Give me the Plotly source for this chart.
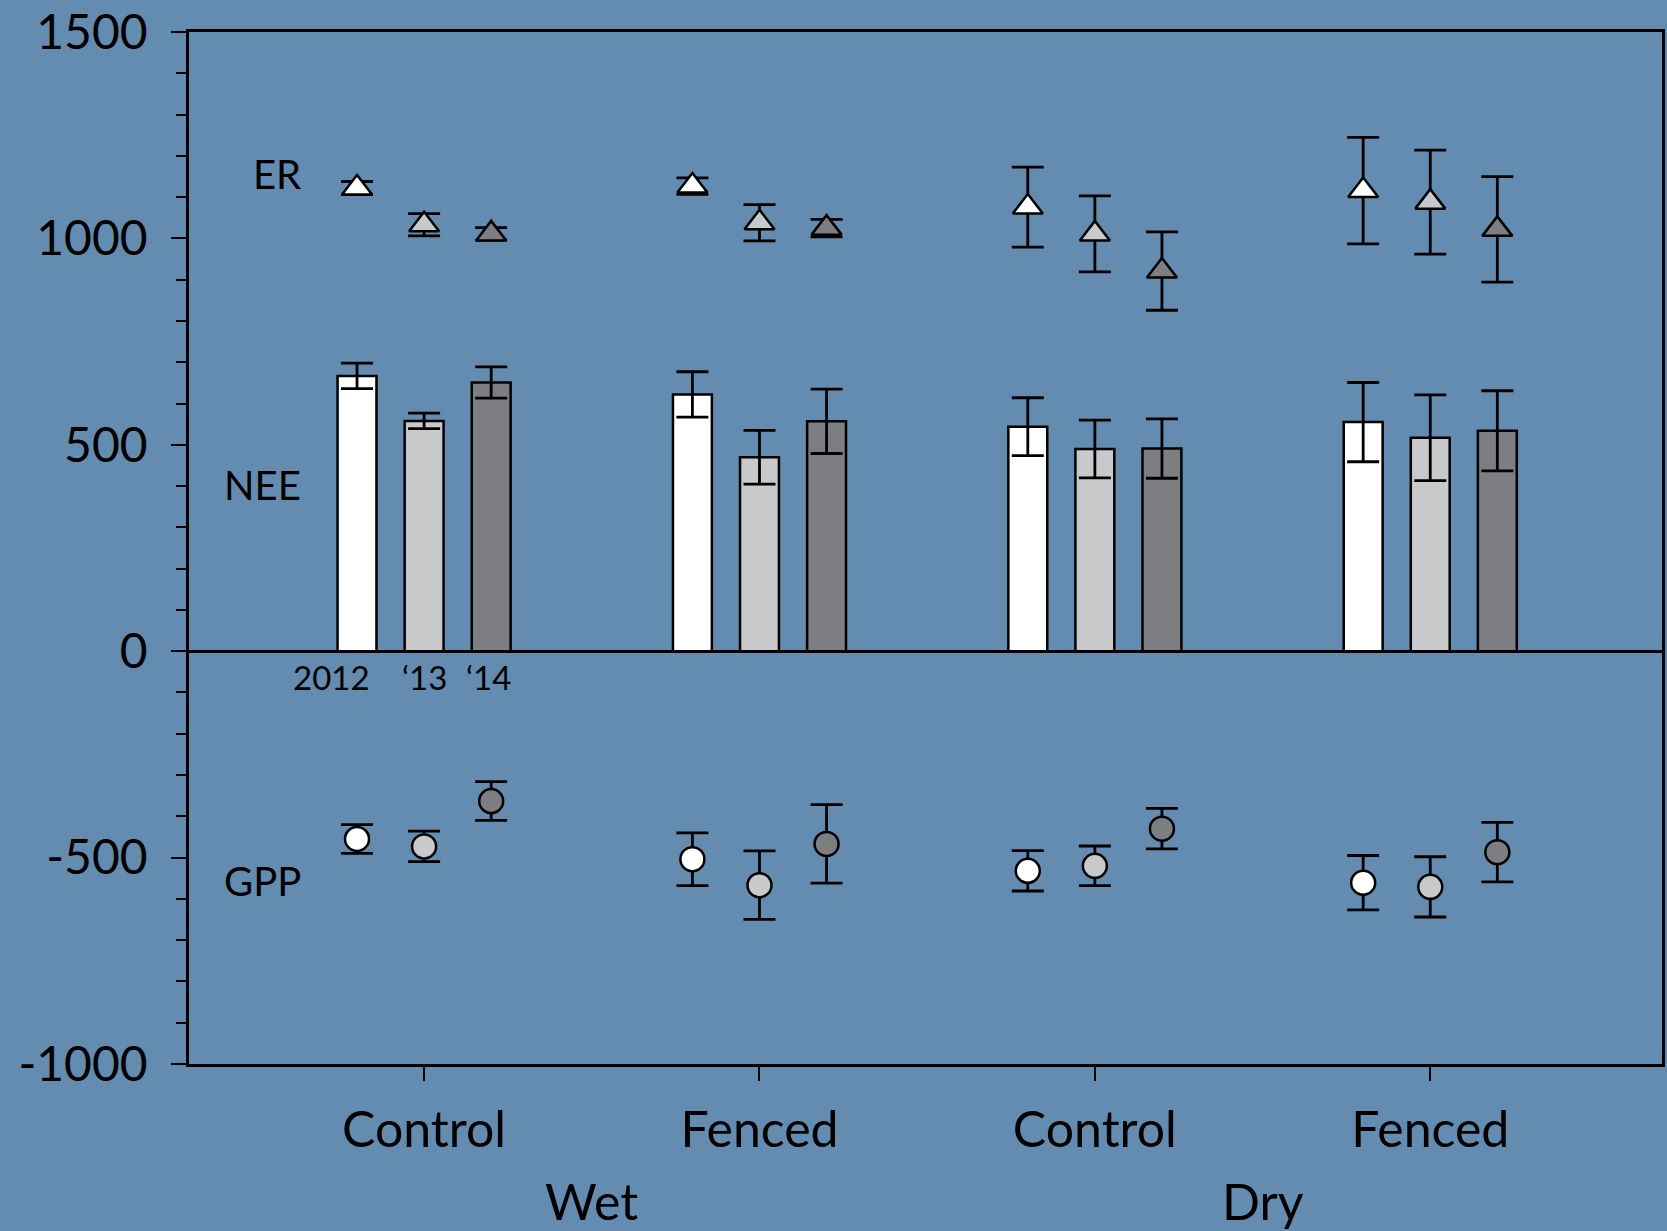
import plotly.graph_objects as go

# ---- data ----
treatments = ["Control", "Fenced", "Control", "Fenced"]
sites = ["Wet", "Dry"]
years = ["2012", "\u201813", "\u201814"]
y_tickvals = [-1000, -500, 0, 500, 1000, 1500]
y_ticktext = ["-1000", "-500", "0", "500", "1000", "1500"]

nee_2012 = [667, 622, 544, 555]
nee_2013 = [558, 470, 490, 517]
nee_2014 = [651, 557, 491, 534]
nee_err_2012 = [31, 55, 70, 96]
nee_err_2013 = [19, 65, 70, 104]
nee_err_2014 = [38, 78, 72, 97]

er_2012 = [1122, 1127, 1076, 1116]
er_2013 = [1033, 1038, 1011, 1088]
er_2014 = [1011, 1025, 921, 1022]
er_err_2012 = [16, 20, 97, 129]
er_err_2013 = [27, 44, 92, 126]
er_err_2014 = [15, 21, 95, 128]

gpp_2012 = [-455, -504, -532, -561]
gpp_2013 = [-473, -567, -520, -571]
gpp_2014 = [-363, -467, -430, -487]
gpp_err_2012 = [35, 64, 49, 66]
gpp_err_2013 = [37, 83, 48, 73]
gpp_err_2014 = [47, 95, 49, 72]

# ---- style ----
BG = "#648BB0"
fills = ["#FFFFFF", "#C8C9CB", "#7D7E82"]
FONT = "Lato"
offsets = [-0.2, 0.0, 0.2]
bar_w = 0.116

nee = [nee_2012, nee_2013, nee_2014]
nee_err = [nee_err_2012, nee_err_2013, nee_err_2014]
er = [er_2012, er_2013, er_2014]
er_err = [er_err_2012, er_err_2013, er_err_2014]
gpp = [gpp_2012, gpp_2013, gpp_2014]
gpp_err = [gpp_err_2012, gpp_err_2013, gpp_err_2014]

groups = list(range(len(treatments)))

fig = go.Figure()

for i, yr in enumerate(years):
    xs = [g + offsets[i] for g in groups]
    fig.add_trace(go.Bar(
        x=xs, y=nee[i], width=bar_w, name=yr,
        marker=dict(color=fills[i], line=dict(color="black", width=2.5)),
        error_y=dict(type="data", array=nee_err[i], visible=True,
                     color="black", thickness=2.8, width=16),
        showlegend=False,
    ))

for i, yr in enumerate(years):
    xs = [g + offsets[i] for g in groups]
    fig.add_trace(go.Scatter(
        x=xs, y=er[i], mode="markers", name="ER " + yr,
        marker=dict(symbol="triangle-up", size=26, color=fills[i],
                    line=dict(color="black", width=2.5)),
        error_y=dict(type="data", array=er_err[i], visible=True,
                     color="black", thickness=2.8, width=16),
        showlegend=False,
    ))
    fig.add_trace(go.Scatter(
        x=xs, y=gpp[i], mode="markers", name="GPP " + yr,
        marker=dict(symbol="circle", size=24, color=fills[i],
                    line=dict(color="black", width=2.5)),
        error_y=dict(type="data", array=gpp_err[i], visible=True,
                     color="black", thickness=2.8, width=16),
        showlegend=False,
    ))

annotations = []
# flux labels
for txt, yv in [("ER", 1157), ("NEE", 403), ("GPP", -558)]:
    annotations.append(dict(x=-0.362, y=yv, xref="x", yref="y", text=txt,
                            showarrow=False, xanchor="right", yanchor="middle",
                            font=dict(family=FONT, size=40, color="black")))
# year labels under first group
year_shift = [-26, 0, -3]
for i, yr in enumerate(years):
    annotations.append(dict(x=groups[0] + offsets[i], y=-63, xref="x", yref="y",
                            text=yr, showarrow=False, xanchor="center",
                            yanchor="middle", xshift=year_shift[i],
                            font=dict(family=FONT, size=33, color="black")))
# site labels
for j, s in enumerate(sites):
    annotations.append(dict(x=2 * j + 0.5, y=-0.1325, xref="x", yref="paper",
                            text=s, showarrow=False, xanchor="center",
                            yanchor="middle",
                            font=dict(family=FONT, size=50, color="black")))

fig.update_layout(
    width=1667, height=1231,
    margin=dict(l=189, r=2, t=30, b=167),
    paper_bgcolor=BG, plot_bgcolor=BG,
    barmode="overlay",
    font=dict(family=FONT, color="black"),
    annotations=annotations,
    xaxis=dict(
        range=[-0.701, 3.691], tickvals=groups, ticktext=treatments,
        showgrid=False, zeroline=False, showline=True, linecolor="black",
        linewidth=2.5, mirror=True, ticks="outside", ticklen=14,
        tickwidth=2, tickcolor="black",
        tickfont=dict(family=FONT, size=50, color="black"),
        ticklabelstandoff=6,
    ),
    yaxis=dict(
        range=[-1000.2, 1500.2], tickmode="array", tickvals=y_tickvals,
        ticktext=y_ticktext, ticklabeloverflow="allow",
        showgrid=False, zeroline=True, zerolinecolor="black",
        zerolinewidth=2.5, showline=True, linecolor="black", linewidth=2.5,
        mirror=True, ticks="outside", ticklen=15, tickwidth=2,
        tickcolor="black",
        tickfont=dict(family=FONT, size=48, color="black"),
        ticklabelstandoff=14,
        minor=dict(tickmode="linear", tick0=0, dtick=100, ticks="outside",
                   ticklen=10, tickwidth=2, tickcolor="black"),
    ),
)

fig.write_html("out.html")
